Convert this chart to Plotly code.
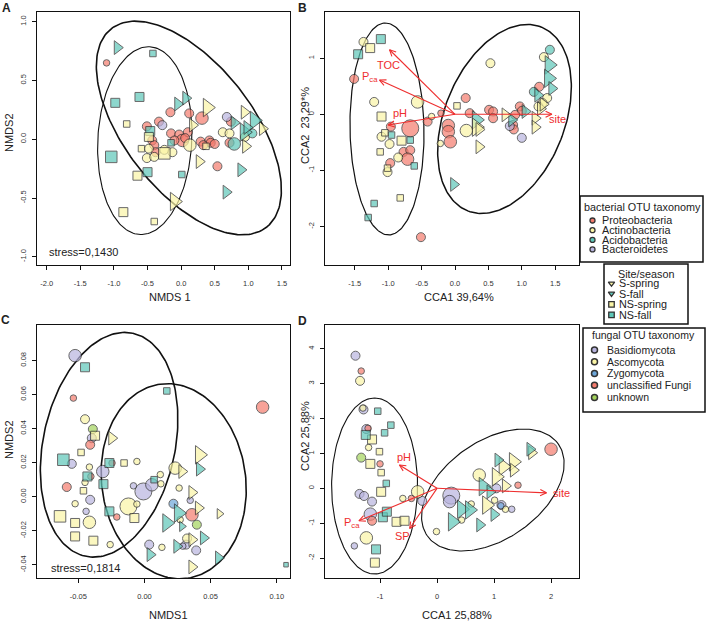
import numpy as np
import plotly.graph_objects as go

W, H = 708, 622

# ---------------- Panel A: NMDS, bacterial OTUs + sites ----------------
a_x = [-1.11, -0.16, 0.12, 0.31, -0.51, -0.33, -0.15, -0.03, 0.02, 0.10, -0.10, -0.43, -0.40, -0.38, 0.29, 0.42,
       0.44, 0.54, 0.74, 0.72, 0.06, 0.33, 0.50,
       -0.48, -0.25, -0.13, -0.51, -0.40, 0.13, 0.62, 0.72, 0.95,
       0.79, 1.06,
       -0.28, 0.68,
       -0.95, -0.05, 0.07, 0.89, 0.67, 0.79, 0.94, 1.09, 0.98,
       0.39, 0.17, 0.27, -0.10, 0.94, 0.96, 1.21,
       -0.42, -0.98, -0.62, -1.04, -0.50, 0.01, -0.46, -0.15,
       -0.81, -0.65, -0.86, -0.40, -0.48, -0.59, -0.25, 0.37]
a_y = [0.65, 0.23, 0.22, 0.18, 0.11, 0.15, 0.05, 0.04, -0.01, 0.06, -0.01, -0.01, -0.05, -0.11, -0.02, -0.01,
       -0.03, -0.23, 0.15, -0.03, 0.01, -0.05, -0.04,
       -0.08, -0.09, -0.11, -0.16, -0.15, -0.05, 0.06, 0.05, 0.02,
       -0.04, 0.05,
       0.12, 0.19,
       0.78, 0.30, 0.35, -0.26, -0.45, 0.14, 0.06, 0.16, 0.10,
       0.27, 0.12, -0.19, -0.53, 0.23, -0.06, 0.09,
       0.73, 0.31, 0.36, -0.15, -0.28, -0.30, 0.07, -0.03,
       0.13, -0.31, -0.62, -0.70, 0.02, -0.08, -0.12, -0.06]
a_grp = ["P", "P", "P", "P", "P", "P", "P", "P", "P", "P", "P", "P", "P", "P", "P", "P",
         "P", "P", "P", "P", "P", "P", "P",
         "Ac", "Ac", "Ac", "Ac", "Ac", "Ac", "Ac", "Ac", "Ac",
         "Ad", "Ad",
         "B", "B",
         "Sfa", "Sfa", "Sfa", "Sfa", "Sfa", "Sfa", "Sfa", "Sfa", "Sfa",
         "Ssp", "Ssp", "Ssp", "Ssp", "Ssp", "Ssp", "Ssp",
         "NSfa", "NSfa", "NSfa", "NSfa", "NSfa", "NSfa", "NSfa", "NSfa",
         "NSsp", "NSsp", "NSsp", "NSsp", "NSsp", "NSsp", "NSsp", "NSsp"]
a_abund = [1, 2, 2, 3, 2, 2, 2, 2, 3, 2, 2, 2, 2, 2, 2, 2,
           2, 2, 2, 2, 2, 2, 2,
           2, 2, 2, 2, 2, 3, 2, 2, 2,
           3, 2,
           2, 2,
           2, 2, 2, 2, 2, 2, 3, 3, 2,
           3, 2, 2, 3, 2, 2, 2,
           1, 2, 2, 3, 2, 1, 2, 1,
           1, 2, 2, 1, 2, 1, 3, 1]

# ---------------- Panel B: CCA, bacterial OTUs + sites ----------------
b_x = [-1.51, -0.41, -0.21, -0.67, -0.96, -0.77, -0.67, -0.71, -0.97, -0.51, 0.16, 0.22, -0.10, -0.10, -0.07,
       0.51, 0.57, 0.57, 0.97, 1.00, 0.90, 0.87, 0.88, 1.26,
       -1.37, -1.21, -0.56, -0.35, -1.10, -0.98, -0.85, -1.01, 0.53, -0.22, 0.17, 1.33, 1.38, 1.31, 1.25,
       1.42, 1.18,
       0.82, 1.00,
       0.32, -0.02, 0.85, 1.05, 1.41, 1.40, 1.45, 1.24,
       0.32, 0.36, 0.36, 0.75, 1.20, 1.20, 1.28, 1.32,
       -1.11, -1.45, -0.95, -0.67, -0.61, -1.21, -1.30,
       -1.27, -1.10, -1.05, -0.80, -1.12, -1.01, -0.82, 0.03]
b_y = [0.63, -0.13, 0.02, -0.25, -0.22, -0.67, -0.64, -0.80, -0.87, -2.19, 0.29, 0.02, -0.20, -0.31, -0.49,
       0.08, 0.05, -0.07, 0.14, 0.06, -0.01, -0.19, -0.27, 0.49,
       1.29, 0.22, 0.22, -0.04, -0.40, -0.53, -0.77, -1.03, 0.91, -0.52, -0.29, 1.02, 0.29, 0.20, 0.14,
       1.15, 0.40,
       -0.21, -0.42,
       -0.10, -1.25, -0.10, 0.05, 0.88, 0.64, 0.46, 0.34,
       -0.23, -0.27, -0.58, -0.01, -0.07, -0.23, 0.10, 0.18,
       1.34, 1.07, -0.37, -0.46, -0.92, -1.59, -1.84,
       1.18, -0.04, -0.33, -0.47, -0.67, -0.96, -1.49, 0.15]
b_grp = ["P", "P", "P", "P", "P", "P", "P", "P", "P", "P", "P", "P", "P", "P", "P",
         "P", "P", "P", "P", "P", "P", "P", "P", "P",
         "Ac", "Ac", "Ac", "Ac", "Ac", "Ac", "Ac", "Ac", "Ac", "Ac", "Ac", "Ac", "Ac", "Ac", "Ac",
         "Ad", "Ad",
         "B", "B",
         "Sfa", "Sfa", "Sfa", "Sfa", "Sfa", "Sfa", "Sfa", "Sfa",
         "Ssp", "Ssp", "Ssp", "Ssp", "Ssp", "Ssp", "Ssp", "Ssp",
         "NSfa", "NSfa", "NSfa", "NSfa", "NSfa", "NSfa", "NSfa",
         "NSsp", "NSsp", "NSsp", "NSsp", "NSsp", "NSsp", "NSsp", "NSsp"]
b_abund = [2, 2, 1, 4, 2, 2, 2, 3, 2, 2, 2, 2, 3, 3, 3,
           2, 2, 2, 2, 2, 2, 2, 2, 2,
           2, 2, 3, 1, 2, 2, 2, 2, 2, 1, 3, 2, 2, 2, 2,
           2, 2,
           2, 2,
           3, 2, 2, 2, 3, 3, 2, 2,
           3, 2, 2, 2, 2, 2, 2, 2,
           2, 2, 1, 1, 1, 1, 1,
           2, 2, 1, 2, 1, 1, 1, 1]

# ---------------- Panel C: NMDS, fungal OTUs + sites ----------------
c_x = [-0.0524, -0.0398, -0.0549, -0.0315, -0.0410, -0.0441, -0.0008, 0.0056, -0.0083, 0.0346, 0.0036, 0.0315,
       0.0391, 0.0290,
       -0.0449, -0.0416, -0.0449, -0.0524, -0.0416, -0.0121, -0.0057, -0.0259, 0.0120, 0.0124, 0.0232, 0.0262,
       0.0132, -0.0057, 0.0322, 0.0270,
       0.0219,
       -0.0537, 0.0893, -0.0410, -0.0587, -0.0209, 0.0359, -0.0405, -0.0245,
       -0.0390, 0.0396,
       -0.0247, 0.0283, 0.0416, 0.0359, 0.0408, 0.0567, 0.0359, 0.0359,
       0.0416, 0.0257, 0.0169, 0.0283, 0.0043, 0.0245, 0.0446, 0.0560,
       -0.0373, -0.0479, -0.0461, -0.0154, -0.0638, -0.0524, -0.0524, -0.0386, -0.0076,
       -0.0449, 0.0169, -0.0613, -0.0431, -0.0265, -0.0310, -0.0265, 0.0073, 0.1070]
c_y = [0.0828, 0.0344, 0.0193, 0.0148, -0.0018, -0.0086, 0.0031, 0.0070, 0.0064, -0.0021, -0.0281, -0.0281,
       -0.0315, -0.0290,
       0.0455, 0.0174, 0.0084, -0.0041, -0.0150, -0.0057, 0.0207, -0.0281, 0.0130, 0.0076, 0.0168, 0.0051,
       -0.0297, -0.0043, -0.0245, -0.0135,
       -0.0041,
       0.0579, 0.0526, 0.0305, 0.0057, -0.0119, -0.0106, 0.0119, 0.0198,
       0.0397, -0.0164,
       0.0344, 0.0148, 0.0246, 0.0025, -0.0066, -0.0100, -0.0252, -0.0412,
       0.0162, -0.0096, -0.0154, -0.0174, -0.0340, -0.0291, -0.0242, -0.0359,
       0.0358, 0.0260, 0.0035, 0.0198, -0.0115, -0.0154, -0.0233, -0.0258, -0.0125,
       0.0760, 0.0621, 0.0217, 0.0119, 0.0198, 0.0074, -0.0086, 0.0100, -0.0399]
c_grp = ["Ba", "Ba", "Ba", "Ba", "Ba", "Ba", "Ba", "Ba", "Ba", "Ba", "Ba", "Ba",
         "Ba", "Ba",
         "As", "As", "As", "As", "As", "As", "As", "As", "As", "As", "As", "As",
         "As", "As", "As", "As",
         "Zy",
         "Un", "Un", "Un", "Un", "Un", "Un", "Un", "Un",
         "Uk", "Uk",
         "Ssp", "Ssp", "Ssp", "Ssp", "Ssp", "Ssp", "Ssp", "Ssp",
         "Sfa", "Sfa", "Sfa", "Sfa", "Sfa", "Sfa", "Sfa", "Sfa",
         "NSsp", "NSsp", "NSsp", "NSsp", "NSsp", "NSsp", "NSsp", "NSsp", "NSsp",
         "NSfa", "NSfa", "NSfa", "NSfa", "NSfa", "NSfa", "NSfa", "NSfa", "NSfa"]
c_abund = [3, 2, 2, 3, 2, 1, 4, 3, 1, 1, 2, 2,
           2, 1,
           2, 1, 1, 1, 3, 4, 1, 1, 1, 1, 3, 1,
           1, 1, 2, 1,
           2,
           1, 3, 2, 2, 1, 3, 1, 1,
           2, 2,
           2, 2, 3, 2, 2, 1, 2, 2,
           2, 3, 3, 1, 2, 2, 2, 2,
           2, 1, 1, 1, 3, 2, 2, 2, 2,
           2, 1, 3, 2, 2, 2, 2, 1, 0]

# ---------------- Panel D: CCA, fungal OTUs + sites ----------------
d_x = [-1.43, -1.29, -1.24, -1.36, -1.28, -1.14, -0.26, -1.17, -1.45, 0.25, 0.22, 1.04, 1.13, 1.31,
       -1.35, -1.20, -0.60, -0.34, -1.24, 0.74, 0.60, 0.43, -0.01, 1.01, 1.20, -1.30,
       1.12,
       -1.33, -1.21, -1.00, -0.45, -1.14, 2.00, 1.42,
       -1.33,
       1.66, 1.34, 1.34, 1.16, 1.04, 1.20, 0.87,
       1.63, 1.07, 0.81, 0.93, 0.43, 0.57, 0.27, 0.75, 1.00,
       -1.14, -1.01, -1.17, -0.98, -0.98, -0.71, -0.57, -1.09,
       -1.04, -0.81, -0.92, -1.25, -0.89, -0.95, -0.88, -1.07]
d_y = [3.80, 2.26, 1.70, -0.16, -0.22, -0.38, -0.36, -0.74, -1.65, -0.21, -0.38, 0.00, -0.48, -0.60,
       3.08, 1.17, -0.29, -0.10, -1.42, 0.38, -0.45, -0.91, -1.24, -0.34, -0.60, 2.30,
       -0.50,
       3.36, 1.72, 0.70, -0.29, -0.93, 1.12, 0.09,
       0.88,
       1.02, 0.76, 0.52, 0.62, 0.33, 0.07, -0.48,
       1.12, 0.81, 0.05, -0.10, -0.60, -0.62, -0.96, -1.05, -0.75,
       1.40, 1.05, 0.70, 0.45, -0.10, -0.96, -0.93, -2.13,
       2.21, 1.81, 1.59, 1.53, 0.14, -0.83, -0.67, -1.75]
d_grp = ["Ba", "Ba", "Ba", "Ba", "Ba", "Ba", "Ba", "Ba", "Ba", "Ba", "Ba", "Ba", "Ba", "Ba",
         "As", "As", "As", "As", "As", "As", "As", "As", "As", "As", "As", "As",
         "Zy",
         "Un", "Un", "Un", "Un", "Un", "Un", "Un",
         "Uk",
         "Ssp", "Ssp", "Ssp", "Ssp", "Ssp", "Ssp", "Ssp",
         "Sfa", "Sfa", "Sfa", "Sfa", "Sfa", "Sfa", "Sfa", "Sfa", "Sfa",
         "NSsp", "NSsp", "NSsp", "NSsp", "NSsp", "NSsp", "NSsp", "NSsp",
         "NSfa", "NSfa", "NSfa", "NSfa", "NSfa", "NSfa", "NSfa", "NSfa"]
d_abund = [2, 2, 2, 2, 2, 2, 2, 3, 1, 4, 3, 2, 2, 1,
           2, 1, 1, 3, 3, 3, 1, 1, 1, 1, 1, 1,
           1,
           1, 1, 1, 1, 2, 3, 1,
           2,
           2, 3, 2, 3, 3, 2, 3,
           2, 2, 3, 2, 3, 3, 3, 2, 2,
           2, 1, 2, 1, 2, 2, 2, 2,
           1, 1, 1, 2, 1, 2, 2, 2]

# ---------------- environmental vectors (biplot arrows) ----------------
b_env = ["TOC", "Pca", "pH", "site"]
b_env_x = [-0.98, -1.13, -1.00, 1.45]
b_env_y = [1.15, 0.61, -0.19, 0.00]
b_lab_x = [-0.99, -1.27, -0.82, 1.54]
b_lab_y = [0.88, 0.66, 0.03, -0.09]

d_env = ["pH", "Pca", "SP", "site"]
d_env_x = [-0.66, -1.37, -0.48, 1.92]
d_env_y = [0.67, -0.93, -1.15, -0.13]
d_lab_x = [-0.58, -1.50, -0.60, 2.19]
d_lab_y = [0.90, -0.99, -1.37, -0.13]

# ellipse centres (data units)
a_ell_cx = [0.115, -0.541]
a_ell_cy = [0.096, -0.012]
b_ell_cx = [-1.018, 0.741]
b_ell_cy = [-0.262, -0.084]
c_ell_cx = [-0.0267, 0.0221]
c_ell_cy = [0.0305, 0.0091]
d_ell_cx = [-1.095, 0.979]
d_ell_cy = [0.066, -0.049]

# ---------------- styling / layout ----------------
RED, YEL, TEAL, LAV, BLUE, GRN = "#F47B6D", "#FAF5A6", "#5EC7B8", "#B8B4DF", "#6DA7DA", "#A3D35C"
OUT = "#2a2a2a"
ARROW = "#EE2E2E"
STYLE = {
    "P": ("circle", RED), "Ac": ("circle", YEL), "Ad": ("circle", TEAL), "B": ("circle", LAV),
    "Ba": ("circle", LAV), "As": ("circle", YEL), "Zy": ("circle", BLUE), "Un": ("circle", RED), "Uk": ("circle", GRN),
    "Ssp": ("triangle-right", YEL), "Sfa": ("triangle-right", TEAL),
    "NSsp": ("square", YEL), "NSfa": ("square", TEAL),
}
SIZE = {"circle": {1: 6.5, 2: 9, 3: 12.5, 4: 17},
        "triangle-right": {1: 9, 2: 12, 3: 16},
        "square": {0: 4.5, 1: 6.5, 2: 9, 3: 11.5}}

PANELS = {
    "A": dict(x0=37, x1=290, y0=12, y1=265, xr=(-2.145, 1.62), yr=(-1.07, 1.083), ax="x", ay="y"),
    "B": dict(x0=325, x1=579, y0=12, y1=265, xr=(-1.946, 1.856), yr=(-2.686, 1.823), ax="x2", ay="y2"),
    "C": dict(x0=37, x1=290, y0=325, y1=578, xr=(-0.0812, 0.110), yr=(-0.0477, 0.1008), ax="x3", ay="y3"),
    "D": dict(x0=325, x1=579, y0=325, y1=578, xr=(-1.965, 2.49), yr=(-2.57, 4.68), ax="x4", ay="y4"),
}
# ellipse shapes in screen pixels: semi-axes a, b, rotation, line width
ELL = {
    "A": [(126, 64, 52, 1.6), (94, 47, -87, 1.1)],
    "B": [(106, 37, -91, 1.2), (99, 60, -68, 1.5)],
    "C": [(114, 66, -78, 1.6), (98, 72, -98, 1.6)],
    "D": [(88, 43, -90, 1.1), (80, 49, -35, 1.1)],
}


def d2p(p, x, y):
    P = PANELS[p]
    px = P["x0"] + (np.asarray(x) - P["xr"][0]) / (P["xr"][1] - P["xr"][0]) * (P["x1"] - P["x0"])
    py = P["y1"] - (np.asarray(y) - P["yr"][0]) / (P["yr"][1] - P["yr"][0]) * (P["y1"] - P["y0"])
    return px, py


def p2d(p, px, py):
    P = PANELS[p]
    x = P["xr"][0] + (np.asarray(px) - P["x0"]) / (P["x1"] - P["x0"]) * (P["xr"][1] - P["xr"][0])
    y = P["yr"][0] + (P["y1"] - np.asarray(py)) / (P["y1"] - P["y0"]) * (P["yr"][1] - P["yr"][0])
    return x, y


fig = go.Figure()


def add_points(p, xs, ys, grps, ab):
    P = PANELS[p]
    order = []
    for g in grps:
        if g not in order:
            order.append(g)
    for g in order:
        idx = [i for i, gg in enumerate(grps) if gg == g]
        sym, col = STYLE[g]
        fig.add_trace(go.Scatter(
            x=[xs[i] for i in idx], y=[ys[i] for i in idx], mode="markers",
            xaxis=P["ax"], yaxis=P["ay"], showlegend=False, hoverinfo="skip",
            marker=dict(symbol=sym, color=col, size=[SIZE[sym][ab[i]] for i in idx],
                        line=dict(color=OUT, width=1))))


def add_ellipses(p, cxs, cys):
    P = PANELS[p]
    t = np.linspace(0, 2 * np.pi, 200)
    for (a, b, th, lw), cx, cy in zip(ELL[p], cxs, cys):
        cpx, cpy = d2p(p, cx, cy)
        r = np.deg2rad(th)
        px = cpx + a * np.cos(t) * np.cos(r) - b * np.sin(t) * np.sin(r)
        py = cpy + a * np.cos(t) * np.sin(r) + b * np.sin(t) * np.cos(r)
        ex, ey = p2d(p, px, py)
        fig.add_trace(go.Scatter(x=ex, y=ey, mode="lines", xaxis=P["ax"], yaxis=P["ay"],
                                 line=dict(color="#111", width=lw), showlegend=False, hoverinfo="skip"))


def add_arrows(p, names, ex, ey, lx, ly):
    P = PANELS[p]
    X, Y = [], []
    for x1, y1 in zip(ex, ey):
        ox, oy = d2p(p, 0.0, 0.0)
        tx, ty = d2p(p, x1, y1)
        ang = np.arctan2(ty - oy, tx - ox)
        hl = 7
        h1 = p2d(p, tx - hl * np.cos(ang - 0.45), ty - hl * np.sin(ang - 0.45))
        h2 = p2d(p, tx - hl * np.cos(ang + 0.45), ty - hl * np.sin(ang + 0.45))
        X += [0.0, x1, None, float(h1[0]), x1, float(h2[0]), None]
        Y += [0.0, y1, None, float(h1[1]), y1, float(h2[1]), None]
    fig.add_trace(go.Scatter(x=X, y=Y, mode="lines", xaxis=P["ax"], yaxis=P["ay"],
                             line=dict(color=ARROW, width=1.1), showlegend=False, hoverinfo="skip"))
    for n, x, y in zip(names, lx, ly):
        txt = "P<sub>ca</sub>" if n == "Pca" else n
        fig.add_annotation(x=x, y=y, xref=P["ax"], yref=P["ay"], text=txt, showarrow=False,
                           font=dict(size=11, color=ARROW, family="Liberation Sans, Arial"))


add_ellipses("A", a_ell_cx, a_ell_cy)
add_points("A", a_x, a_y, a_grp, a_abund)
add_ellipses("B", b_ell_cx, b_ell_cy)
add_points("B", b_x, b_y, b_grp, b_abund)
add_arrows("B", b_env, b_env_x, b_env_y, b_lab_x, b_lab_y)
add_ellipses("C", c_ell_cx, c_ell_cy)
add_points("C", c_x, c_y, c_grp, c_abund)
add_ellipses("D", d_ell_cx, d_ell_cy)
add_points("D", d_x, d_y, d_grp, d_abund)
add_arrows("D", d_env, d_env_x, d_env_y, d_lab_x, d_lab_y)

TICKS = {
    "A": ([-2, -1.5, -1, -0.5, 0, 0.5, 1, 1.5], ["-2.0", "-1.5", "-1.0", "-0.5", "0.0", "0.5", "1.0", "1.5"],
          [-1, -0.5, 0, 0.5, 1], ["-1.0", "-0.5", "0.0", "0.5", "1.0"]),
    "B": ([-1.5, -1, -0.5, 0, 0.5, 1, 1.5], ["-1.5", "-1.0", "-0.5", "0.0", "0.5", "1.0", "1.5"],
          [-2, -1, 0, 1], ["-2", "-1", "0", "1"]),
    "C": ([-0.05, 0, 0.05, 0.10], ["-0.05", "0.00", "0.05", "0.10"],
          [-0.04, -0.02, 0, 0.02, 0.04, 0.06, 0.08], ["-0.04", "-0.02", "0.00", "0.02", "0.04", "0.06", "0.08"]),
    "D": ([-1, 0, 1, 2], ["-1", "0", "1", "2"],
          [-2, -1, 0, 1, 2, 3, 4], ["-2", "-1", "0", "1", "2", "3", "4"]),
}
FONT = "Liberation Sans, Arial, sans-serif"
tickfont = dict(size=7.5, color="#333", family=FONT)
layout = {}
for k, (p, P) in enumerate(PANELS.items()):
    sfx = "" if k == 0 else str(k + 1)
    xv, xt, yv, yt = TICKS[p]
    common = dict(showgrid=False, zeroline=False, showline=True, mirror=True, linecolor="#111", linewidth=1,
                  ticks="outside", ticklen=4, tickcolor="#111", tickwidth=1, tickfont=tickfont, fixedrange=True)
    layout["xaxis" + sfx] = dict(domain=[P["x0"] / W, P["x1"] / W], range=list(P["xr"]), anchor="y" + sfx,
                                 tickvals=xv, ticktext=xt, ticklabelstandoff=7, **common)
    layout["yaxis" + sfx] = dict(domain=[1 - P["y1"] / H, 1 - P["y0"] / H], range=list(P["yr"]), anchor="x" + sfx,
                                 tickvals=yv, ticktext=yt, tickangle=-90, ticklabelstandoff=3, **common)
# overlay axis in pixel units for legend keys
layout["xaxis5"] = dict(domain=[0, 1], range=[0, W], visible=False, fixedrange=True, anchor="y5")
layout["yaxis5"] = dict(domain=[0, 1], range=[H, 0], visible=False, fixedrange=True, anchor="x5")

fig.update_layout(width=W, height=H, margin=dict(l=0, r=0, t=0, b=0), paper_bgcolor="white",
                  plot_bgcolor="rgba(0,0,0,0)", showlegend=False, **layout)


def ann(px, py, text, size=11, angle=0, xanchor="center", bold=False, color="#222"):
    fig.add_annotation(x=px / W, y=1 - py / H, xref="paper", yref="paper", text=("<b>%s</b>" % text) if bold else text,
                       showarrow=False, textangle=angle, xanchor=xanchor, yanchor="middle",
                       font=dict(size=size, color=color, family=FONT))


# panel letters
ann(6, 8, "A", 12, bold=True)
ann(302, 8, "B", 12, bold=True)
ann(5, 320, "C", 12, bold=True)
ann(302, 321, "D", 12, bold=True)
# axis titles
ann(170, 297, "NMDS 1")
ann(9, 133, "NMDS2", angle=-90)
ann(459, 297, "CCA1 39,64%")
ann(305, 126, "CCA2  23,29*%", angle=-90)
ann(168, 615, "NMDS1")
ann(9, 440, "NMDS2", angle=-90)
ann(457, 615, "CCA1 25,88%")
ann(305, 436, "CCA2 25,88%", angle=-90)
# stress values
ann(47, 252, "stress=0,1430", xanchor="left")
ann(49, 568, "stress=0,1814", xanchor="left")

# ---------------- legends ----------------
leg_bact = ["Proteobacteria", "Actinobacteria", "Acidobacteria", "Bacteroidetes"]
leg_bact_col = [RED, YEL, TEAL, LAV]
leg_site = ["S-spring", "S-fall", "NS-spring", "NS-fall"]
leg_site_sym = ["triangle-down", "triangle-down", "square", "square"]
leg_site_col = [YEL, TEAL, YEL, TEAL]
leg_fung = ["Basidiomycota", "Ascomycota", "Zygomycota", "unclassified Fungi", "unknown"]
leg_fung_col = [LAV, YEL, BLUE, RED, GRN]

boxes = [(580, 196, 703, 262), (604, 264, 688, 324), (583, 328, 705, 412)]
for x0, y0, x1, y1 in boxes:
    fig.add_shape(type="rect", xref="paper", yref="paper", x0=x0 / W, x1=x1 / W, y0=1 - y1 / H, y1=1 - y0 / H,
                  line=dict(color="#111", width=1.5), fillcolor="white", layer="below")

ann(642, 207, "bacterial OTU taxonomy", 10.8)
bact_y = [220.5, 230.2, 239.9, 249.4]
for name, yy in zip(leg_bact, bact_y):
    ann(600, yy, name, 10.8, xanchor="left")
fig.add_trace(go.Scatter(x=[592.5] * 4, y=bact_y, xaxis="x5", yaxis="y5", mode="markers", hoverinfo="skip",
                         marker=dict(symbol="circle", size=5, color=leg_bact_col, line=dict(color="#333", width=1.3))))

ann(646, 274, "Site/season", 10.8)
site_y = [283.5, 293.6, 304.4, 314.8]
for name, yy in zip(leg_site, site_y):
    ann(617, yy, name, 10.8, xanchor="left")
fig.add_trace(go.Scatter(x=[611.5] * 4, y=site_y, xaxis="x5", yaxis="y5", mode="markers", hoverinfo="skip",
                         marker=dict(symbol=leg_site_sym, size=5.5, color=leg_site_col,
                                     line=dict(color="#333", width=1.3))))

ann(643, 335, "fungal OTU taxonomy", 10.5)
fung_y = [350, 361.8, 373.4, 385.2, 397.4]
for name, yy in zip(leg_fung, fung_y):
    ann(604.5, yy, name, 10.5, xanchor="left")
fig.add_trace(go.Scatter(x=[594.5] * 5, y=fung_y, xaxis="x5", yaxis="y5", mode="markers", hoverinfo="skip",
                         marker=dict(symbol="circle", size=6, color=leg_fung_col, line=dict(color="#333", width=1.5))))

fig.write_html("out.html", config={"displayModeBar": False},
               post_script="document.body.style.margin='0';document.body.style.overflow='hidden';")
